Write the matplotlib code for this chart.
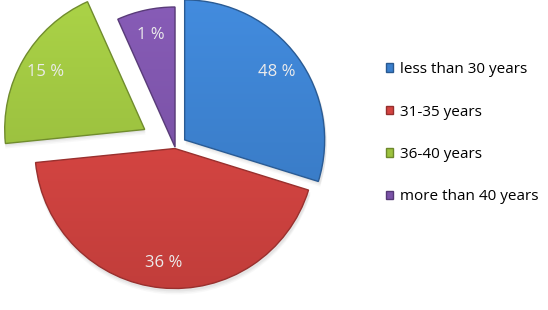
import matplotlib.pyplot as plt
import matplotlib.colors as mcolors
from matplotlib.patches import Wedge
import numpy as np

# wedge sizes as drawn (the printed labels do not match the geometry)
categories = ['less than 30 years', '31-35 years', '36-40 years', 'more than 40 years']
shares = [29.8, 43.6, 19.9, 6.7]
pct_labels = ['48 %', '36 %', '15 %', '1 %']
colors = ['#3a7fcd', '#d44340', '#9cc23e', '#7b52a8']
explode = [12, 1.5, 35, 0]   # pie() takes this in data units

fig = plt.figure(figsize=(5.48, 3.10), dpi=100)
ax = fig.add_axes([0, 0, 1, 1])

wedges, _ = ax.pie(shares, colors=colors, explode=explode, startangle=90,
                   counterclock=False, center=(175, 163), radius=140,
                   wedgeprops=dict(linewidth=1.0))

# faint drop shadow
for w in wedges:
    cx, cy = w.center
    for k, a in [(5, 0.05), (3.5, 0.07), (2, 0.09)]:
        sh = Wedge((cx + 1, cy - k), w.r + 1, w.theta1, w.theta2,
                   fc='#808080', ec='none', alpha=a, zorder=1)
        ax.add_patch(sh)

# mild shading: vertical gradient clipped to each wedge, darker rim
yy = np.linspace(0, 1, 256).reshape(-1, 1)
for w, c in zip(wedges, colors):
    rgb = np.array(mcolors.to_rgb(c))
    light = np.clip(rgb * 1.06 + 0.02, 0, 1)
    dark = rgb * 0.9
    grad = light + (dark - light) * yy[..., None]
    grad = np.repeat(grad, 2, axis=1)
    im = ax.imshow(grad, extent=(0, 548, 0, 310), origin='upper',
                   aspect='auto', zorder=1.5)
    im.set_clip_path(w)
    w.set_edgecolor(tuple(rgb * 0.72))
    w.set_facecolor('none')
    w.set_zorder(2)

# percentage labels inside each wedge
for w, txt in zip(wedges, pct_labels):
    mid = np.deg2rad((w.theta1 + w.theta2) / 2)
    cx, cy = w.center
    r = 0.82 * w.r
    ax.text(cx + r * np.cos(mid), cy + r * np.sin(mid), txt,
            ha='center', va='center', fontsize=12, color='#ebebeb',
            family='Open Sans', zorder=3)

ax.set_xlim(0, 548)
ax.set_ylim(0, 310)
ax.axis('off')

# legend
handles = [plt.Rectangle((0, 0), 1, 1, fc=c, ec=tuple(np.array(mcolors.to_rgb(c)) * 0.7))
           for c in colors]
leg = ax.legend(handles, categories, loc='upper left', bbox_to_anchor=(0.704, 0.80),
                frameon=False, borderaxespad=0, borderpad=0,
                handlelength=0.46, handleheight=0.46,
                handletextpad=0.45, labelspacing=1.8,
                prop=dict(family='Open Sans', size=11))

fig.savefig('out.png', dpi=100)
